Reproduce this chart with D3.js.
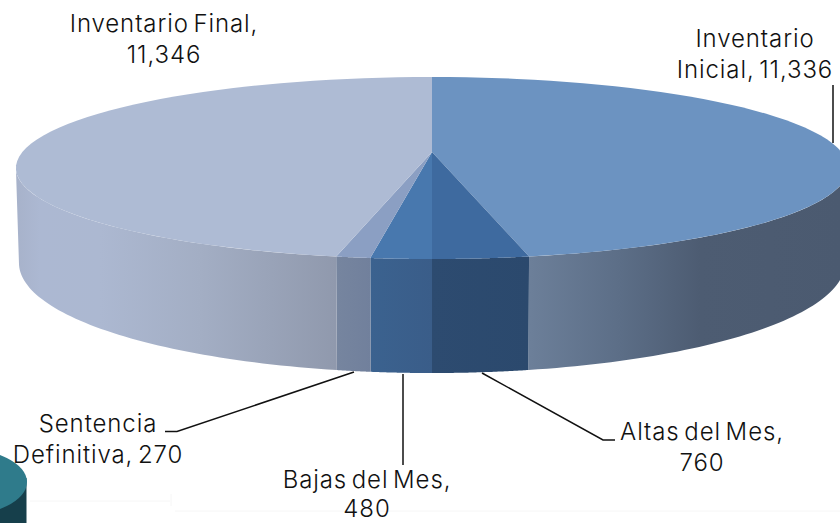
<!DOCTYPE html>
<html><head><meta charset="utf-8">
<script src="https://cdn.jsdelivr.net/npm/d3@7"></script>
<style>html,body{margin:0;padding:0;background:#fff}svg{display:block}
text{font-family:"Inter",sans-serif;font-weight:300;font-size:24px;letter-spacing:0.9px;word-spacing:-3px;fill:#111;text-anchor:middle}</style></head>
<body><div id="c"></div>
<script>
const categories=["Inventario Inicial","Altas del Mes","Bajas del Mes","Sentencia Definitiva","Inventario Final"];
const values=[11336,760,480,270,11346];
const topColors=["#6c93c1","#3e6a9f","#4878ae","#8b9fc3","#aebbd4"];
const wallStops=[
 [[530,"#6c7f99"],[620,"#5c6e87"],[700,"#4d5c72"],[840,"#4b5a70"]],
 [[432,"#2d4b70"],[530,"#2b496d"]],
 [[371,"#3b628f"],[432,"#3a5d89"]],
 [[336,"#76859f"],[371,"#71809c"]],
 [[16,"#a7b2ca"],[40,"#acb8d2"],[100,"#acb8d1"],[200,"#a3aec4"],[336,"#9099ad"]]
];
const labelLines=[["Inventario","Inicial, 11,336"],["Altas del Mes,","760"],["Bajas del Mes,","480"],["Sentencia","Definitiva, 270"],["Inventario Final,","11,346"]];
const labelX=[755,702,367,98,164];
const labelY=[47,440,488,432,32];
const labelGap=[31,31,29,31,31];
const leaders=[[[833,85],[833,143]],[[482,373],[603,440],[615,440]],[[403,374],[403,465]],[[354,372],[177,431.5],[165,431.5]],[]];

const W=840,H=523,cx=432,cy=152,k=0.1758;
const topP={x:409.6,y:88.2,cy:152},botP={x:406.6,y:106.6,cy:243.7};
const proj=(a,p)=>{const u=Math.sin(a),w=-Math.cos(a),d=1-k*w;return [cx+p.x*u/d,p.cy+p.y*w/d];};
const svg=d3.select("#c").append("svg").attr("width",W).attr("height",H);
const defs=svg.append("defs");
const arcs=d3.pie().sort(null).value(d=>d)(values);
const vis0=Math.acos(-k),vis1=2*Math.PI-vis0;
const line=d3.line();
const samples=(a,b)=>d3.range(0,61).map(i=>a+(b-a)*i/60);

// decoration bottom-left
svg.append("path").attr("d","M30 501H170M171 494V506M175 511H840").attr("stroke","#f6f6f6").attr("fill","none");
svg.append("path").attr("d","M0 478H26.5V523H0Z").attr("fill","#163f4b");
svg.append("ellipse").attr("cx",-42).attr("cy",482).attr("rx",69).attr("ry",34).attr("fill","#2f7b8b");

// walls
arcs.forEach((d,i)=>{
  const a=Math.max(d.startAngle,vis0),b=Math.min(d.endAngle,vis1);
  if(a>=b) return;
  const id="w"+i,st=wallStops[i],x0=st[0][0],x1=st[st.length-1][0];
  const g=defs.append("linearGradient").attr("id",id).attr("gradientUnits","userSpaceOnUse").attr("x1",x0).attr("x2",x1).attr("y1",0).attr("y2",0);
  st.forEach(s=>g.append("stop").attr("offset",(s[0]-x0)/(x1-x0)).attr("stop-color",s[1]));
  const s=samples(a,b);
  const pts=s.map(t=>proj(t,topP)).concat(s.slice().reverse().map(t=>proj(t,botP)));
  svg.append("path").attr("d",line(pts)+"Z").attr("fill",`url(#${id})`);
});
// top faces
arcs.forEach((d,i)=>{
  const pts=[[cx,cy]].concat(samples(d.startAngle,d.endAngle).map(t=>proj(t,topP)));
  svg.append("path").attr("d",line(pts)+"Z").attr("fill",topColors[i]);
});
// leaders
leaders.forEach(l=>{ if(l.length) svg.append("path").attr("d",line(l)).attr("fill","none").attr("stroke","#111").attr("stroke-width",1.5);});
// labels
labelLines.forEach((ls,i)=>{
  const t=svg.append("text").attr("data-cat",categories[i]);
  ls.forEach((s,j)=>t.append("tspan").attr("x",labelX[i]).attr("y",labelY[i]+j*labelGap[i]).text(s));
});
</script></body></html>
